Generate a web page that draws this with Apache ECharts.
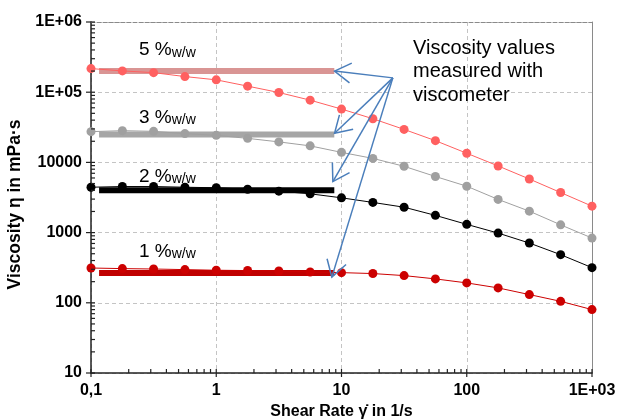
<!DOCTYPE html>
<html>
<head>
<meta charset="utf-8">
<script src="https://cdn.jsdelivr.net/npm/echarts@6/dist/echarts.min.js"></script>
<style>html,body{margin:0;padding:0;background:#fff;}#c{width:624px;height:419px;}</style>
</head>
<body>
<div id="c"></div>
<script>
// ---- data ----
const shearRate = [0.1, 0.178, 0.316, 0.562, 1, 1.78, 3.16, 5.62, 10, 17.8, 31.6, 56.2, 100, 178, 316, 562, 1000];
const visc5 = [217000, 201000, 190000, 167000, 150000, 122000, 99000, 77000, 57500, 41900, 29500, 20400, 13500, 8900, 5800, 3720, 2380];
const visc3 = [27400, 28300, 27700, 25700, 24300, 22000, 19600, 17200, 13900, 11400, 8800, 6300, 4580, 2970, 2020, 1290, 836];
const visc2 = [4430, 4530, 4530, 4430, 4350, 4150, 3890, 3570, 3130, 2690, 2300, 1760, 1310, 984, 710, 485, 317];
const visc1 = [313, 307, 303, 297, 291, 288, 284, 275, 269, 261, 244, 219, 192, 163, 131, 105, 80];
// viscometer values (horizontal bars) : shear-rate span and value
const viscometerSpan = [0.116, 8.76];
const viscometer5 = 200000;
const viscometer3 = 25000;
const viscometer2 = 4000;
const viscometer1 = 265;
// concentration labels
const concLabels = ['5 %', '3 %', '2 %', '1 %'];
const concSub = 'w/w';
// tick labels
const xTickLabels = {'-1': '0,1', '0': '1', '1': '10', '2': '100', '3': '1E+03'};
const yTickLabels = {'1': '10', '2': '100', '3': '1000', '4': '10000', '5': '1E+05', '6': '1E+06'};
const minorMultipliers = [2, 3, 4, 5, 6, 7, 8, 9];
const xDecades = [0.1, 1, 10, 100];
const yDecades = [10, 100, 1000, 10000, 100000];
// annotation arrows: [fromX, fromY, toX, toY] in data units
const arrowOrigin = [25.7, 160000];
const arrowTargets = [[8.8, 200000], [8.8, 26000], [8.53, 5330], [8.37, 232]];
const annotationText = 'Viscosity values\nmeasured with\nviscometer';

const FONT = "'Liberation Sans', Arial, sans-serif";
const chart = echarts.init(document.getElementById('c'), null, {renderer: 'canvas'});

function pairs(ys) { return shearRate.map((x, i) => [x, ys[i]]); }
function bar(v) { return [[viscometerSpan[0], v], [viscometerSpan[1], v]]; }

// tick marks data: [x, y, kind]  kind 0 = x major,1 = x minor,2 = y major,3 = y minor
const tickData = [];
[0.1, 1, 10, 100, 1000].forEach(v => tickData.push([v, 10, 0]));
xDecades.forEach(d => minorMultipliers.forEach(m => tickData.push([d * m, 10, 1])));
[10, 100, 1000, 10000, 100000, 1000000].forEach(v => tickData.push([0.1, v, 2]));
yDecades.forEach(d => minorMultipliers.forEach(m => tickData.push([0.1, d * m, 3])));

const arrowData = arrowTargets.map(t => [arrowOrigin[0], arrowOrigin[1], t[0], t[1]]);

function lineSeries(name, ys, color, z) {
  return {
    name, type: 'line', data: pairs(ys), z,
    symbol: 'circle', symbolSize: 9,
    lineStyle: {color, width: 1}, itemStyle: {color},
    emphasis: {disabled: true}, animation: false
  };
}
function barSeries(v, color) {
  return {
    type: 'line', data: bar(v), symbol: 'none', z: 2,
    lineStyle: {color, width: 6, cap: 'butt'}, animation: false, silent: true
  };
}

const axisLabelStyle = {fontFamily: FONT, fontSize: 16, fontWeight: 'bold', color: '#000'};

chart.setOption({
  animation: false,
  grid: {left: 91, right: 32, top: 22, bottom: 46, containLabel: false, outerBoundsMode: 'none'},
  xAxis: [{
    type: 'log', logBase: 10, min: 0.1, max: 1000,
    name: 'Shear Rate \u03B3\u0307 in 1/s', nameLocation: 'middle', nameGap: 21,
    nameTextStyle: {fontFamily: FONT, fontSize: 16, fontWeight: 'bold', color: '#000'},
    axisLine: {lineStyle: {color: '#222', width: 1.5}},
    axisTick: {show: false},
    axisLabel: Object.assign({margin: 10, formatter: v => xTickLabels[String(Math.round(Math.log10(v)))] || ''}, axisLabelStyle),
    splitLine: {show: true, lineStyle: {color: '#c4c4c4', type: [4, 3], width: 1}}
  }, {
    type: 'log', position: 'top', min: 0.1, max: 1000,
    axisLine: {show: true, lineStyle: {color: '#8a8a8a', width: 1, type: [4, 2]}},
    axisTick: {show: false}, axisLabel: {show: false}, splitLine: {show: false}
  }],
  yAxis: [{
    type: 'log', logBase: 10, min: 10, max: 1000000,
    name: 'Viscosity \u03B7 in mPa\u00B7s', nameLocation: 'middle', nameGap: 64, nameRotate: 90,
    nameTextStyle: {fontFamily: FONT, fontSize: 17.5, fontWeight: 'bold', color: '#000', padding: [0, 14, 0, 0]},
    axisLine: {lineStyle: {color: '#222', width: 1.5}},
    axisTick: {show: false},
    axisLabel: Object.assign({margin: 9, formatter: v => yTickLabels[String(Math.round(Math.log10(v)))] || ''}, axisLabelStyle),
    splitLine: {show: true, lineStyle: {color: '#c4c4c4', type: [4, 3], width: 1}}
  }, {
    type: 'log', position: 'right', min: 10, max: 1000000,
    axisLine: {show: true, lineStyle: {color: '#8a8a8a', width: 1}},
    axisTick: {show: false}, axisLabel: {show: false}, splitLine: {show: false}
  }],
  series: [
    barSeries(viscometer5, '#d99594'),
    barSeries(viscometer3, '#a6a6a6'),
    barSeries(viscometer2, '#000000'),
    barSeries(viscometer1, '#c00000'),
    lineSeries('5', visc5, '#ff6060', 3),
    lineSeries('3', visc3, '#a0a0a0', 3),
    lineSeries('2', visc2, '#000000', 3),
    lineSeries('1', visc1, '#cc0000', 3),
    {
      type: 'custom', clip: false, z: 5, silent: true, data: tickData,
      encode: {x: 0, y: 1},
      renderItem: function (params, api) {
        const p = api.coord([api.value(0), api.value(1)]);
        const k = api.value(2);
        let shape;
        if (k === 0) shape = {x1: p[0], y1: p[1] - 4, x2: p[0], y2: p[1] + 4};
        else if (k === 1) shape = {x1: p[0], y1: p[1] - 4, x2: p[0], y2: p[1]};
        else if (k === 2) shape = {x1: p[0] - 5, y1: p[1], x2: p[0] + 4, y2: p[1]};
        else shape = {x1: p[0], y1: p[1], x2: p[0] + 4, y2: p[1]};
        return {type: 'line', shape, style: {stroke: '#222', lineWidth: 1.2}};
      }
    },
    {
      type: 'custom', clip: false, z: 6, silent: true, data: arrowData,
      encode: {x: [0, 2], y: [1, 3]},
      renderItem: function (params, api) {
        const a = api.coord([api.value(0), api.value(1)]);
        const b = api.coord([api.value(2), api.value(3)]);
        const ang = Math.atan2(b[1] - a[1], b[0] - a[0]);
        const L = 19, h = 0.55;
        const p1 = [b[0] - L * Math.cos(ang - h), b[1] - L * Math.sin(ang - h)];
        const p2 = [b[0] - L * Math.cos(ang + h), b[1] - L * Math.sin(ang + h)];
        const st = {stroke: '#4a7ebb', lineWidth: 1.5, fill: null};
        return {type: 'group', children: [
          {type: 'line', shape: {x1: a[0], y1: a[1], x2: b[0], y2: b[1]}, style: st},
          {type: 'polyline', shape: {points: [p1, b, p2]}, style: st}
        ]};
      }
    }
  ],
  graphic: [
    {type: 'text', left: 413, top: 37, style: {text: annotationText, fontFamily: FONT, fontSize: 20, lineHeight: 23.3, fill: '#000'}, z: 10},
  ].concat([48.7, 115.8, 175, 250.3].map((cy, i) => ({
    type: 'text', x: 139, y: cy, z: 10,
    style: {
      text: '{a|' + concLabels[i] + '}{b|' + concSub + '}',
      verticalAlign: 'middle', align: 'left',
      rich: {
        a: {fontFamily: FONT, fontSize: 19, color: '#000', verticalAlign: 'bottom', lineHeight: 22},
        b: {fontFamily: FONT, fontSize: 14, color: '#000', verticalAlign: 'bottom', lineHeight: 22, padding: [0, 0, 0, 0]}
      }
    }
  })))
});
</script>
</body>
</html>
